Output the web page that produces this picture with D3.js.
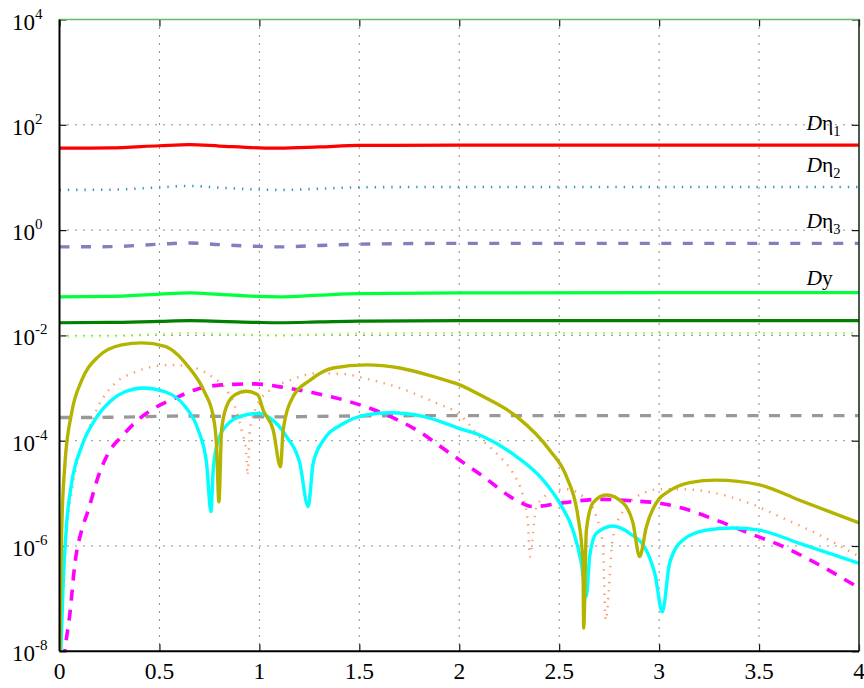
<!DOCTYPE html>
<html>
<head>
<meta charset="utf-8">
<script src="https://cdn.jsdelivr.net/npm/d3@7"></script>
<style>
  html, body { margin: 0; padding: 0; background: #fff; }
  svg { display: block; }
</style>
</head>
<body>
<svg id="chart" width="864" height="688"></svg>
<script>
// ---------------- data ----------------
const xTicks = [0, 0.5, 1, 1.5, 2, 2.5, 3, 3.5, 4];
const xTickLabels = ["0", "0.5", "1", "1.5", "2", "2.5", "3", "3.5", "4"];
const yTickExps = [4, 2, 0, -2, -4, -6, -8];

// nearly flat series share one x grid
const flatX = [0, 0.25, 0.5, 0.65, 0.8, 1.0, 1.1, 1.3, 1.5, 2, 3, 4];
const eta1Y = [36, 36.3, 40, 42, 39.5, 36.5, 36, 38, 40.5, 41, 41, 41];
const eta2Y = [5.8, 5.85, 6.5, 6.9, 6.4, 5.9, 5.8, 6.1, 6.5, 6.6, 6.6, 6.6];
const eta3Y = [0.48, 0.485, 0.54, 0.57, 0.53, 0.49, 0.48, 0.51, 0.54, 0.56, 0.56, 0.56];
const dyY = [0.054, 0.055, 0.061, 0.064, 0.060, 0.055, 0.054, 0.058, 0.062, 0.064, 0.065, 0.065];
const darkGreenY = [0.0174, 0.0176, 0.0185, 0.019, 0.0185, 0.0176, 0.0174, 0.018, 0.0187, 0.019, 0.019, 0.019];
const lightGreenY = [0.0096, 0.0097, 0.0105, 0.011, 0.0106, 0.0101, 0.0100, 0.0104, 0.0108, 0.011, 0.011, 0.011];
const grayY = [2.75e-4, 2.78e-4, 2.9e-4, 2.95e-4, 2.9e-4, 2.85e-4, 2.83e-4, 2.9e-4, 2.95e-4, 3.0e-4, 3.0e-4, 3.0e-4];

const oliveX = [0, 0.011, 0.0275, 0.061, 0.111, 0.1925, 0.311, 0.411, 0.5275, 0.6425, 0.7275, 0.769, 0.786, 0.7975,
  0.811, 0.836, 0.8775, 0.936, 0.9925, 1.019, 1.069, 1.106, 1.119, 1.169, 1.2525, 1.369, 1.536, 1.7025, 1.869, 2.0025,
  2.119, 2.286, 2.4525, 2.536, 2.594, 2.619, 2.6225, 2.636, 2.669, 2.736, 2.819, 2.869, 2.9025, 2.936, 3.0025, 3.036,
  3.1525, 3.286, 3.5025, 3.7025, 4.0];
const oliveY = [6.3e-9, 2.0e-6, 3.8e-5, 3.4e-4, 1.4e-3, 3.9e-3, 6.6e-3, 7.2e-3, 6.2e-3, 2.6e-3, 8.1e-4, 2.9e-4, 7.8e-5, 6.9e-6,
  1.6e-4, 4.5e-4, 7.4e-4, 8.7e-4, 7.4e-4, 3.8e-4, 1.6e-4, 3.2e-5, 1.6e-4, 6.9e-4, 1.4e-3, 2.4e-3, 2.75e-3, 2.4e-3, 1.66e-3, 1.15e-3,
  6.9e-4, 2.9e-4, 6.6e-5, 2.1e-5, 3.6e-6, 4.8e-7, 2.75e-8, 2.0e-6, 6.6e-6, 9.3e-6, 6.6e-6, 2.75e-6, 6.3e-7, 2.3e-6, 8.1e-6, 1.02e-5,
  1.6e-5, 1.78e-5, 1.45e-5, 7.4e-6, 2.75e-6];

const cyanX = [0.004, 0.019, 0.036, 0.061, 0.111, 0.1775, 0.261, 0.3275, 0.419, 0.5275, 0.6275, 0.694, 0.736, 0.7575,
  0.769, 0.794, 0.844, 0.911, 0.994, 1.0525, 1.136, 1.2025, 1.244, 1.269, 1.319, 1.419, 1.536, 1.6525, 1.819, 2.0025,
  2.119, 2.286, 2.419, 2.5025, 2.569, 2.611, 2.636, 2.6525, 2.686, 2.769, 2.8525, 2.936, 2.98, 3.016, 3.0525, 3.119,
  3.236, 3.369, 3.5025, 3.7025, 4.0];
const cyanY = [5e-9, 2.2e-7, 2.75e-6, 1.6e-5, 7.8e-5, 2.5e-4, 5.9e-4, 8.5e-4, 1.0e-3, 8.5e-4, 4.5e-4, 1.6e-4, 3.7e-5, 4.5e-6,
  2.8e-5, 1.0e-4, 2.1e-4, 2.95e-4, 3.3e-4, 2.7e-4, 1.2e-4, 3.7e-5, 5.6e-6, 3.7e-5, 1.0e-4, 2.1e-4, 3.1e-4, 3.4e-4, 2.9e-4, 1.7e-4,
  1.2e-4, 5.0e-5, 1.8e-5, 6.5e-6, 2.0e-6, 4.7e-7, 1.1e-7, 6.3e-7, 1.74e-6, 2.4e-6, 1.74e-6, 8.3e-7, 2.8e-7, 5.6e-8, 4.7e-7, 1.3e-6,
  2.0e-6, 2.2e-6, 2.0e-6, 1.12e-6, 4.7e-7];

const orangeX = [0.003, 0.011, 0.0275, 0.0525, 0.0775, 0.144, 0.194, 0.2775, 0.3775, 0.4775, 0.561, 0.6775, 0.761, 0.8275,
  0.8775, 0.911, 0.936, 0.941, 0.9525, 0.986, 1.0525, 1.1525, 1.286, 1.419, 1.536, 1.7025, 1.869, 2.0025, 2.119, 2.2025,
  2.269, 2.319, 2.344, 2.3525, 2.386, 2.4525, 2.536, 2.619, 2.686, 2.719, 2.7325, 2.769, 2.836, 2.919, 3.0025, 3.119,
  3.286, 3.4525, 3.619, 3.786, 4.0];
const orangeY = [6e-9, 1.1e-7, 9.8e-7, 6.5e-6, 2.4e-5, 1.6e-4, 4.5e-4, 1.23e-3, 2.0e-3, 2.6e-3, 2.75e-3, 2.4e-3, 1.66e-3, 1.0e-3,
  4.5e-4, 1.6e-4, 5.0e-5, 2.2e-5, 1.6e-4, 4.5e-4, 9.2e-4, 1.4e-3, 1.9e-3, 1.85e-3, 1.5e-3, 1.0e-3, 5.5e-4, 3.1e-4, 1.0e-4, 5.0e-5,
  2.4e-5, 8.7e-6, 2.7e-6, 6.3e-7, 5.6e-6, 1.0e-5, 1.2e-5, 8.7e-6, 3.6e-6, 9.8e-7, 3.9e-8, 1.5e-6, 5.6e-6, 1.0e-5, 1.2e-5, 1.2e-5,
  1.0e-5, 6.5e-6, 3.4e-6, 1.74e-6, 6.3e-7];

const magentaX = [0.0225, 0.0275, 0.0525, 0.0775, 0.111, 0.144, 0.194, 0.244, 0.311, 0.394, 0.4775, 0.5775, 0.6775, 0.811,
  0.9775, 1.119, 1.286, 1.4525, 1.619, 1.786, 1.9525, 2.119, 2.286, 2.369, 2.5025, 2.7025, 2.869, 3.0025, 3.119, 3.286,
  3.4525, 3.619, 3.786, 4.0];
const magentaY = [6.8e-9, 1.05e-8, 5.4e-8, 4.8e-7, 2.0e-6, 4.8e-6, 2.1e-5, 5.8e-5, 1.2e-4, 2.5e-4, 4.2e-4, 6.4e-4, 9.2e-4, 1.15e-3,
  1.2e-3, 1.03e-3, 7.9e-4, 5.5e-4, 3.3e-4, 1.6e-4, 5.8e-5, 2.1e-5, 7.4e-6, 5.6e-6, 6.5e-6, 7.7e-6, 7.2e-6, 6.5e-6, 5.2e-6, 3.1e-6,
  1.74e-6, 9.8e-7, 4.7e-7, 1.6e-7];

const seriesLabels = [
  { main: "η", sub: "1", y: 80 },
  { main: "η", sub: "2", y: 12.9 },
  { main: "η", sub: "3", y: 1.08 },
  { main: "y", sub: "", y: 0.09 }
];

// ---------------- layout ----------------
const pL = 59.5, pR = 859, pT = 19.5, pB = 651.3;
const FONT = "Liberation Serif";

const svg = d3.select("#chart");
const x = d3.scaleLinear().domain([0, 4]).range([pL, pR]);
const y = d3.scaleLog().domain([1e-8, 1e4]).range([pB, pT]);

svg.append("defs").append("clipPath").attr("id", "plotclip")
  .append("rect").attr("x", pL).attr("y", pT)
  .attr("width", pR - pL).attr("height", pB - pT);

// grid
const grid = svg.append("g");
grid.selectAll("line.vg").data(xTicks.filter(d => d > 0 && d < 4)).enter().append("line")
  .attr("x1", d => x(d)).attr("x2", d => x(d)).attr("y1", pT).attr("y2", pB)
  .attr("stroke", "#222").attr("stroke-width", 1).attr("stroke-dasharray", "1,7");
grid.selectAll("line.hg").data(yTickExps.filter(e => e < 4 && e > -8)).enter().append("line")
  .attr("y1", e => y(Math.pow(10, e))).attr("y2", e => y(Math.pow(10, e)))
  .attr("x1", pL).attr("x2", pR)
  .attr("stroke", "#222").attr("stroke-width", 1).attr("stroke-dasharray", "1,7");

// axes ticks via d3 axes (inward ticks)
const xAxisB = d3.axisBottom(x).tickValues(xTicks).tickSize(-7).tickFormat("");
const xAxisT = d3.axisTop(x).tickValues(xTicks).tickSize(-7).tickFormat("");
const yVals = yTickExps.map(e => Math.pow(10, e));
const yAxisL = d3.axisLeft(y).tickValues(yVals).tickSize(-7).tickFormat("");
const yAxisR = d3.axisRight(y).tickValues(yVals).tickSize(-7).tickFormat("");
function styleAxis(g) { g.select(".domain").remove(); g.selectAll(".tick line").attr("stroke", "#111").attr("stroke-width", 1.2); }
svg.append("g").attr("transform", `translate(0,${pB})`).call(xAxisB).call(styleAxis);
svg.append("g").attr("transform", `translate(0,${pT})`).call(xAxisT).call(styleAxis);
svg.append("g").attr("transform", `translate(${pL},0)`).call(yAxisL).call(styleAxis);
svg.append("g").attr("transform", `translate(${pR},0)`).call(yAxisR).call(styleAxis);

// series
const plot = svg.append("g").attr("clip-path", "url(#plotclip)");
function addLine(xs, ys, color, width, dash) {
  const pts = xs.map((v, i) => [v, ys[i]]);
  const line = d3.line().x(d => x(d[0])).y(d => y(d[1])).curve(d3.curveMonotoneX);
  const p = plot.append("path").datum(pts).attr("d", line)
    .attr("fill", "none").attr("stroke", color).attr("stroke-width", width)
    .attr("stroke-linejoin", "round");
  if (dash) p.attr("stroke-dasharray", dash); else p.attr("stroke-linecap", "round");
}
addLine(flatX, eta1Y, "#ff0000", 3.2);
addLine(flatX, eta2Y, "#3399cc", 2.6, "1.4,6.9");
addLine(flatX, eta3Y, "#8080c0", 3.4, "10,11.5");
addLine(flatX, dyY, "#00ff3c", 3.2);
addLine(flatX, darkGreenY, "#007f00", 3.2);
addLine(flatX, lightGreenY, "#88ff22", 2.6, "1.4,6.6");
addLine(flatX, grayY, "#999999", 3.4, "11,10.5");
addLine(orangeX, orangeY, "#ff9966", 2.4, "1.4,6.6");
addLine(magentaX, magentaY, "#ff00ff", 3.6, "11,9");
addLine(cyanX, cyanY, "#00ffff", 3.4);
addLine(oliveX, oliveY, "#b4b400", 3.4);

// frame
svg.append("line").attr("x1", pL).attr("x2", pR).attr("y1", pT).attr("y2", pT)
  .attr("stroke", "#66bb66").attr("stroke-width", 1.6);
svg.append("line").attr("x1", pR).attr("x2", pR).attr("y1", pT).attr("y2", pB)
  .attr("stroke", "#1a331a").attr("stroke-width", 1.6);
svg.append("line").attr("x1", pL).attr("x2", pL).attr("y1", pT).attr("y2", pB)
  .attr("stroke", "#000").attr("stroke-width", 2);
svg.append("line").attr("x1", pL).attr("x2", pR).attr("y1", pB).attr("y2", pB)
  .attr("stroke", "#000").attr("stroke-width", 2);

// tick labels
svg.selectAll("text.xl").data(xTicks).enter().append("text")
  .attr("x", d => x(d)).attr("y", 678.5).attr("text-anchor", "middle")
  .attr("font-family", FONT).attr("font-size", 23.5).attr("fill", "#000")
  .text((d, i) => xTickLabels[i]);

const yl = svg.selectAll("text.yl").data(yTickExps).enter().append("text")
  .attr("x", 12).attr("y", e => y(Math.pow(10, e)) + 10)
  .attr("font-family", FONT).attr("font-size", 23).attr("fill", "#000");
yl.append("tspan").text("10");
yl.append("tspan").attr("dy", -11).attr("font-size", 15).text(e => (e < 0 ? "-" : "") + Math.abs(e));

// series labels
const lab = svg.selectAll("text.sl").data(seriesLabels).enter().append("text")
  .attr("x", 806.5).attr("y", d => y(d.y))
  .attr("font-family", FONT).attr("font-size", 21.5).attr("fill", "#000");
lab.append("tspan").attr("font-style", "italic").text("D");
lab.append("tspan").text(d => d.main);
lab.append("tspan").attr("dy", 6).attr("font-size", 14.5).text(d => d.sub);
</script>
</body>
</html>
